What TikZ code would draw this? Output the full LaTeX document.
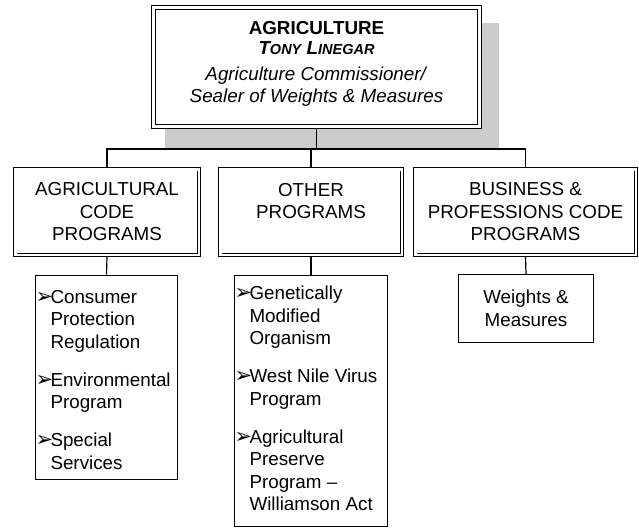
\documentclass[tikz,border=0pt]{standalone}
\usepackage{fontspec}
\setmainfont{Liberation Sans}
\newfontfamily\dingfont{DejaVu Sans}
\usepackage{tikz}
\usetikzlibrary{calc}
\definecolor{shadowgray}{RGB}{204,204,204}
\newcommand{\bul}{\makebox[15pt][l]{\dingfont\fontsize{21}{21}\selectfont ➢}}
\newcommand{\lowcap}[1]{{\fontsize{14.5}{14.5}\selectfont #1}}

\begin{document}
\begin{tikzpicture}[x=1pt,y=-1pt,
  headbox/.style={draw, fill=white, double, line width=1.4pt, double distance=2.2pt,
    inner sep=0pt, outer sep=2.5pt},
  groupbox/.style={draw, double, line width=0.9pt, double distance=2.6pt,
    minimum height=85.6pt, align=center, inner sep=0pt, outer sep=2.2pt,
    font=\fontsize{18.8}{22.5}\selectfont},
  listbox/.style={draw, line width=0.9pt, inner sep=0pt,
    font=\fontsize{18.8}{22.5}\selectfont},
  link/.style={line width=1.2pt}]
\useasboundingbox (0,0) rectangle (639,527);

% Shadow behind the head box
\fill[shadowgray] (165,23) rectangle (499,148);

% Head
\node[headbox] (ag) at (316.5,67) {\parbox[c][119pt][t]{326pt}{%
  \centering\fontsize{18.8}{21}\selectfont\vspace*{11.8pt}%
  \strut\textbf{AGRICULTURE}\\
  \textbf{\textit{T\lowcap{ONY} L\lowcap{INEGAR}}}\\[5pt]
  \textit{Agriculture Commissioner/}\\
  \textit{Sealer of Weights \& Measures}}};

% Program groups
\node[groupbox, minimum width=183.6pt] (agcode) at (107,212) {AGRICULTURAL\\CODE\\PROGRAMS};
\node[groupbox, minimum width=181.6pt] (other) at (311,212) {OTHER\\PROGRAMS\\\mbox{}};
\node[groupbox, minimum width=220.6pt] (bizcode) at (525.5,212) {BUSINESS \&\\PROFESSIONS CODE\\PROGRAMS};

% Program lists
\node[listbox, anchor=north] (aglist) at (106.5,274.5) {\parbox[c][204pt][t]{142pt}{%
  \vspace*{12.7pt}%
  \begin{tabular}[t]{@{}l@{}l@{}}
  \bul & Consumer\\
       & Protection\\
       & Regulation\\[15.5pt]
  \bul & Environmental\\
       & Program\\[15.5pt]
  \bul & Special\\
       & Services
  \end{tabular}}};

\node[listbox, anchor=north] (otherlist) at (311,274.5) {\parbox[c][251pt][t]{153pt}{%
  \vspace*{8.8pt}%
  \begin{tabular}[t]{@{}l@{}l@{}}
  \bul & Genetically\\
       & Modified\\
       & Organism\\[15.5pt]
  \bul & West Nile Virus\\
       & Program\\[15.5pt]
  \bul & Agricultural\\
       & Preserve\\
       & Program \textendash\\
       & Williamson Act
  \end{tabular}}};

\node[listbox, minimum width=135pt, minimum height=68pt, align=center] (wmlist) at (526,308.5) {Weights \&\\Measures};

% Connectors
\coordinate (bus) at (316,149);
\draw[link] (ag.south) -- (ag.south |- bus);
\draw[link] (agcode.north) -- (agcode.north |- bus) -- (bizcode.north |- bus) -- (bizcode.north);
\draw[link] (other.north) -- (other.north |- bus);
\draw[link] (agcode.south) -- (aglist.north);
\draw[link] (other.south) -- (otherlist.north);
\draw[link] (bizcode.south) -- (wmlist.north);
\end{tikzpicture}
\end{document}
